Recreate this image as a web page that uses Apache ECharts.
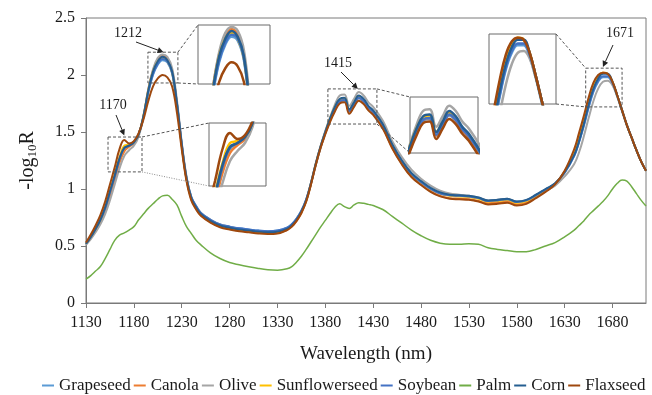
<!DOCTYPE html>
<html>
<head>
<meta charset="utf-8">
<script src="https://cdn.jsdelivr.net/npm/echarts@6/dist/echarts.min.js"></script>
<style>html,body{margin:0;padding:0;background:#fff;}#c{width:652px;height:395px;}</style>
</head>
<body>
<div id="c"></div>
<script>
// ---------- DATA ----------
const wavelengths = [1130,1135,1140,1145,1150,1155,1160,1165,1170,1175,1180,1185,1190,1195,1200,1205,1210,1215,1220,1225,1230,1235,1240,1245,1250,
  1260,1270,1280,1290,1300,1310,1320,1330,1340,
  1345,1350,1355,1360,1365,1370,1375,1380,1385,1390,1395,1400,1405,1410,1415,1420,1425,1430,
  1440,1450,1460,1470,1480,1490,1500,1510,1520,1530,1540,1550,1560,1570,1580,1590,1600,1610,1620,1630,1640,
  1645,1650,1655,1660,1665,1670,1675,1680,1685,1690,1695,1700,1705,1710,1715];

const grapeseed = [0.52,0.58,0.65,0.73,0.83,0.97,1.11,1.26,1.35,1.38,1.41,1.48,1.63,1.84,2.00,2.09,2.13,2.11,2.01,1.74,1.39,1.10,0.93,0.85,0.79,
  0.73,0.69,0.67,0.655,0.645,0.635,0.63,0.635,0.66,
  0.69,0.74,0.81,0.90,1.05,1.21,1.36,1.49,1.60,1.70,1.765,1.775,1.68,1.735,1.795,1.765,1.71,1.67,
  1.55,1.38,1.24,1.13,1.06,1.00,0.96,0.945,0.94,0.935,0.92,0.895,0.90,0.91,0.885,0.90,0.945,0.995,1.045,1.14,1.29,
  1.41,1.55,1.71,1.85,1.94,1.98,1.98,1.92,1.81,1.68,1.56,1.45,1.34,1.24,1.16];
const canola = [0.52,0.57,0.64,0.71,0.81,0.94,1.08,1.23,1.33,1.37,1.40,1.48,1.64,1.87,2.04,2.13,2.17,2.14,2.04,1.75,1.38,1.08,0.91,0.83,0.77,
  0.71,0.67,0.65,0.635,0.625,0.615,0.61,0.615,0.64,
  0.67,0.72,0.79,0.89,1.04,1.21,1.36,1.49,1.60,1.70,1.77,1.78,1.68,1.74,1.80,1.77,1.71,1.67,
  1.54,1.36,1.22,1.11,1.04,0.98,0.94,0.92,0.915,0.91,0.895,0.875,0.88,0.89,0.865,0.88,0.93,0.98,1.04,1.15,1.33,
  1.46,1.61,1.77,1.91,1.99,2.02,2.01,1.94,1.82,1.69,1.56,1.45,1.34,1.24,1.16];
const olive = [0.51,0.56,0.62,0.69,0.78,0.90,1.04,1.18,1.29,1.34,1.38,1.46,1.63,1.87,2.05,2.15,2.18,2.16,2.06,1.78,1.41,1.11,0.93,0.85,0.79,
  0.73,0.69,0.67,0.65,0.64,0.63,0.625,0.63,0.655,
  0.685,0.735,0.805,0.905,1.055,1.225,1.375,1.51,1.63,1.74,1.82,1.83,1.73,1.79,1.85,1.82,1.76,1.72,
  1.60,1.42,1.28,1.17,1.09,1.03,0.985,0.96,0.95,0.94,0.925,0.90,0.905,0.915,0.89,0.90,0.94,0.985,1.03,1.11,1.22,
  1.32,1.46,1.62,1.77,1.88,1.94,1.95,1.91,1.81,1.69,1.56,1.45,1.34,1.24,1.16];
const sunflowerseed = [0.52,0.58,0.65,0.73,0.84,0.98,1.13,1.28,1.38,1.39,1.41,1.48,1.64,1.86,2.03,2.12,2.15,2.12,2.02,1.74,1.38,1.09,0.92,0.84,0.78,
  0.72,0.68,0.66,0.645,0.635,0.625,0.62,0.625,0.65,
  0.68,0.73,0.80,0.90,1.05,1.22,1.37,1.50,1.62,1.72,1.785,1.795,1.70,1.755,1.815,1.78,1.72,1.68,
  1.56,1.38,1.24,1.13,1.06,1.00,0.96,0.94,0.935,0.93,0.915,0.89,0.895,0.905,0.88,0.895,0.94,0.99,1.045,1.15,1.31,
  1.44,1.59,1.76,1.89,1.98,2.02,2.01,1.94,1.82,1.69,1.56,1.45,1.34,1.24,1.16];
const soybean = [0.52,0.58,0.65,0.73,0.83,0.97,1.11,1.26,1.36,1.38,1.41,1.48,1.63,1.85,2.01,2.10,2.14,2.12,2.02,1.75,1.40,1.10,0.93,0.85,0.79,
  0.73,0.69,0.67,0.655,0.645,0.635,0.63,0.635,0.66,
  0.69,0.74,0.81,0.91,1.05,1.22,1.37,1.50,1.61,1.71,1.77,1.78,1.685,1.74,1.80,1.77,1.715,1.675,
  1.56,1.38,1.24,1.13,1.06,1.00,0.96,0.945,0.94,0.935,0.92,0.895,0.90,0.91,0.885,0.90,0.945,0.995,1.045,1.145,1.29,
  1.41,1.56,1.72,1.86,1.95,1.99,1.99,1.93,1.82,1.69,1.56,1.45,1.34,1.24,1.16];
const palm = [0.21,0.24,0.28,0.32,0.39,0.47,0.55,0.595,0.615,0.64,0.67,0.73,0.78,0.83,0.87,0.91,0.94,0.945,0.91,0.86,0.76,0.67,0.61,0.55,0.51,
  0.44,0.39,0.355,0.335,0.318,0.303,0.292,0.288,0.30,
  0.32,0.36,0.41,0.47,0.535,0.60,0.665,0.725,0.785,0.84,0.87,0.845,0.83,0.86,0.88,0.875,0.865,0.855,
  0.82,0.76,0.70,0.64,0.59,0.55,0.525,0.515,0.515,0.52,0.515,0.485,0.47,0.46,0.45,0.45,0.47,0.50,0.53,0.58,0.64,
  0.68,0.72,0.77,0.81,0.85,0.89,0.94,1.00,1.05,1.08,1.07,1.02,0.96,0.90,0.85];
const corn = [0.52,0.58,0.65,0.73,0.84,0.98,1.12,1.27,1.36,1.38,1.41,1.48,1.64,1.86,2.03,2.12,2.16,2.13,2.03,1.75,1.39,1.09,0.92,0.84,0.78,
  0.72,0.68,0.66,0.645,0.635,0.625,0.62,0.625,0.65,
  0.68,0.73,0.80,0.90,1.05,1.22,1.37,1.50,1.62,1.72,1.79,1.80,1.70,1.76,1.82,1.79,1.73,1.69,
  1.57,1.39,1.25,1.14,1.07,1.01,0.97,0.95,0.945,0.94,0.925,0.90,0.905,0.915,0.89,0.905,0.95,1.00,1.05,1.15,1.30,
  1.42,1.57,1.74,1.88,1.97,2.01,2.01,1.94,1.82,1.69,1.56,1.45,1.34,1.24,1.16];
const flaxseed = [0.53,0.60,0.68,0.77,0.89,1.04,1.19,1.35,1.43,1.40,1.42,1.49,1.61,1.77,1.90,1.97,2.00,1.98,1.90,1.67,1.35,1.07,0.90,0.82,0.765,
  0.705,0.665,0.645,0.63,0.62,0.61,0.605,0.61,0.64,
  0.67,0.72,0.79,0.89,1.04,1.21,1.36,1.48,1.59,1.68,1.75,1.76,1.66,1.72,1.775,1.745,1.69,1.65,
  1.53,1.355,1.215,1.105,1.035,0.975,0.935,0.915,0.91,0.905,0.89,0.865,0.87,0.88,0.855,0.87,0.92,0.975,1.04,1.16,1.35,
  1.49,1.64,1.80,1.93,2.00,2.02,2.01,1.94,1.82,1.69,1.56,1.45,1.34,1.24,1.16];

const seriesNames = ['Grapeseed','Canola','Olive','Sunflowerseed','Soybean','Palm','Corn','Flaxseed'];
const seriesValues = [grapeseed, canola, olive, sunflowerseed, soybean, palm, corn, flaxseed];
const xTicks = [1130,1180,1230,1280,1330,1380,1430,1480,1530,1580,1630,1680];

// zoom annotations: label, zoomed box [x0,x1,y0,y1], arrow tip [x,y]
const peakLabels = ['1212','1170','1415','1671'];
const zoomBoxes = [[1194.7,1226,1.93,2.20],[1153,1188.5,1.15,1.456],[1382.7,1433.9,1.57,1.878],[1652,1690,1.72,2.06]];
const insetRanges = [[1183,1241,1.89,2.19],[1156,1194,1.165,1.48],[1385,1437,1.58,1.90],[1646,1702,1.67,2.04]];
const arrowTips = [[1211,2.20],[1170,1.47],[1414,1.878],[1670,2.07]];

// ---------- STYLE / LAYOUT ----------
const colors = ['#5B9BD5','#ED7D31','#A5A5A5','#FFC000','#4472C4','#70AD47','#255E91','#9E480E'];
const FONT = 'Liberation Serif';
const TXT = '#1a1a1a';
const AX = '#7a7a7a';
const insetRects = [[198,25,72,59],[209,123,57,63],[410,97,68,56],[489,34,67,70]]; // left,top,w,h
const labelPos = [[128,33],[113,105],[338,63],[620,33]];
const arrowStarts = [[136,42],[116,115],[341,72],[613,45]];

const chart = echarts.init(document.getElementById('c'), null, {renderer:'canvas'});

const grids = [{left:86, top:18, right:6, bottom:92, show:true, borderColor:AX, borderWidth:1, backgroundColor:'transparent'}];
const xAxes = [{
  type:'value', gridIndex:0, min:1130, max:1715,
  axisLine:{show:true, lineStyle:{color:AX, width:1}},
  axisTick:{show:true, customValues:xTicks, length:5, lineStyle:{color:AX}},
  axisLabel:{customValues:xTicks, formatter:(v)=>String(v), fontFamily:FONT, fontSize:16, color:TXT, margin:12},
  splitLine:{show:false},
  name:'Wavelength (nm)', nameLocation:'middle', nameGap:42,
  nameTextStyle:{fontFamily:FONT, fontSize:19, color:TXT}
}];
const yAxes = [{
  type:'value', gridIndex:0, min:0, max:2.5, interval:0.5,
  axisLine:{show:true, lineStyle:{color:AX, width:1}},
  axisTick:{show:true, length:5, lineStyle:{color:AX}},
  axisLabel:{fontFamily:FONT, fontSize:16, color:TXT, margin:11},
  splitLine:{show:false},
  name:'-log{s|10}R', nameLocation:'middle', nameGap:47, nameRotate:90,
  nameTextStyle:{fontFamily:FONT, fontSize:20, color:TXT,
    rich:{s:{fontFamily:FONT, fontSize:13, color:TXT, padding:[9,0,0,0]}}}
}];
const series = [];
seriesNames.forEach((n,i)=>{
  series.push({
    name:n, type:'line', xAxisIndex:0, yAxisIndex:0, smooth:0.4, showSymbol:false, symbol:'none',
    data: wavelengths.map((w,j)=>[w, seriesValues[i][j]]),
    lineStyle:{color:colors[i], width: n==='Palm'?1.5:2},
    itemStyle:{color:colors[i]}, z:2+i*0.01
  });
});
insetRanges.forEach((r,k)=>{
  const ir = insetRects[k];
  grids.push({left:ir[0], top:ir[1], width:ir[2], height:ir[3], show:true, borderColor:'#6a6a6a', borderWidth:1, backgroundColor:'#fff', z:5});
  xAxes.push({type:'value', gridIndex:k+1, min:r[0], max:r[1], show:false});
  yAxes.push({type:'value', gridIndex:k+1, min:r[2], max:r[3], show:false});
  seriesNames.forEach((n,i)=>{
    if (n==='Palm') return;
    series.push({
      name:n, type:'line', xAxisIndex:k+1, yAxisIndex:k+1, smooth:0.4, showSymbol:false, symbol:'none', clip:true,
      data: wavelengths.map((w,j)=>[w, seriesValues[i][j]]),
      lineStyle:{color:colors[i], width:2.5}, itemStyle:{color:colors[i]}, z:6
    });
  });
});

chart.setOption({
  animation:false,
  color:colors,
  grid:grids, xAxis:xAxes, yAxis:yAxes, series:series,
  legend:{
    data:seriesNames, top:377, left:42, padding:0, icon:'rect', itemWidth:12, itemHeight:2, itemGap:3,
    textStyle:{fontFamily:FONT, fontSize:17, color:TXT}
  }
});

// ---------- annotations ----------
function px(p){ return chart.convertToPixel({xAxisIndex:0, yAxisIndex:0}, p); }
const g = [];
const dash = {stroke:'#555', lineWidth:1, lineDash:[3,2]};
zoomBoxes.forEach((b,k)=>{
  const p0 = px([b[0], b[3]]), p1 = px([b[1], b[2]]);
  g.push({type:'rect', shape:{x:p0[0], y:p0[1], width:p1[0]-p0[0], height:p1[1]-p0[1]}, style:Object.assign({fill:null}, dash), z:20, silent:true});
  const ir = insetRects[k];
  let lines;
  if (k===3) {
    lines = [[[ir[0]+ir[2], ir[1]],[p0[0], p0[1]]], [[ir[0]+ir[2], ir[1]+ir[3]],[p0[0], p1[1]]]];
  } else {
    lines = [[[p1[0], p0[1]],[ir[0], ir[1]]], [[p1[0], p1[1]],[ir[0], ir[1]+ir[3]]]];
  }
  lines.forEach((l,li)=>{
    const st = (k===1 && li===1) ? {stroke:'#888', lineWidth:1, lineDash:[1,1.5]} : dash;
    g.push({type:'line', shape:{x1:l[0][0], y1:l[0][1], x2:l[1][0], y2:l[1][1]}, style:Object.assign({}, st), z:20, silent:true});
  });
  // arrow
  const tip = px(arrowTips[k]); const s = arrowStarts[k];
  const dx = tip[0]-s[0], dy = tip[1]-s[1], L = Math.hypot(dx,dy), ux = dx/L, uy = dy/L;
  const hl = 6, hw = 3;
  const bx = tip[0]-ux*hl, by = tip[1]-uy*hl;
  g.push({type:'line', shape:{x1:s[0], y1:s[1], x2:bx, y2:by}, style:{stroke:'#222', lineWidth:1}, z:21, silent:true});
  g.push({type:'polygon', shape:{points:[[tip[0],tip[1]],[bx-uy*hw, by+ux*hw],[bx+uy*hw, by-ux*hw]]}, style:{fill:'#222'}, z:21, silent:true});
  g.push({type:'text', x:labelPos[k][0], y:labelPos[k][1], style:{text:peakLabels[k], fontFamily:FONT, fontSize:14, fill:TXT, align:'center', verticalAlign:'middle'}, z:21, silent:true});
});
chart.setOption({graphic:{elements:g}});
</script>
</body>
</html>
